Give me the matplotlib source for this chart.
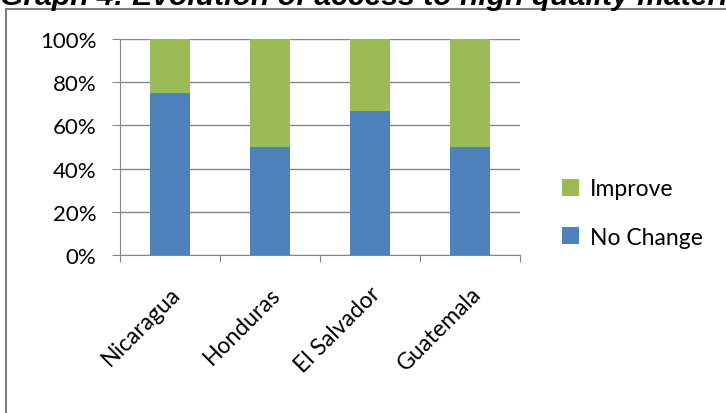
import matplotlib
matplotlib.use("Agg")
import matplotlib.pyplot as plt
from matplotlib.patches import Rectangle

countries = ["Nicaragua", "Honduras", "El Salvador", "Guatemala"]
no_change = [0.75, 0.50, 0.667, 0.50]
improve = [0.25, 0.50, 0.333, 0.50]

BLUE = "#4f81bd"
GREEN = "#9bbb59"
GRID = "#868686"

plt.rcParams["font.family"] = ["Lato", "DejaVu Sans"]

W, H = 726, 414
fig = plt.figure(figsize=(W / 100, H / 100), dpi=100)

# outer chart frame (top-left corner visible, rest runs off the picture)
fig.patches.append(Rectangle((6 / W, -0.1), 1.2, 1 - 10 / H + 0.1,
                             transform=fig.transFigure, fill=False,
                             edgecolor="#7f7f7f", lw=1.5))

fig.text(0, 1 - 5 / H, "Graph 4: Evolution of access to high quality materials",
         family=["Liberation Sans"], fontsize=21.7, fontweight="bold",
         fontstyle="italic", va="baseline", ha="left")

ax = fig.add_axes([120 / W, 1 - 256 / H, 400 / W, 216 / H])
x = range(len(countries))
ax.bar(x, no_change, width=0.4, color=BLUE, label="No Change", zorder=3)
ax.bar(x, improve, width=0.4, bottom=no_change, color=GREEN, label="Improve",
       zorder=3)

ax.set_xlim(-0.5, len(countries) - 0.5)
ax.set_ylim(0, 1)
ax.set_yticks([0, 0.2, 0.4, 0.6, 0.8, 1.0])
ax.set_yticklabels(["0%", "20%", "40%", "60%", "80%", "100%"])
ax.yaxis.grid(True, color=GRID, lw=1, zorder=0)
for s in ["top", "right"]:
    ax.spines[s].set_visible(False)
ax.spines["left"].set_color(GRID)
ax.spines["bottom"].set_color(GRID)
ax.tick_params(axis="y", length=6, color=GRID, labelsize=16, pad=11)

ax.set_xticks([i - 0.5 for i in range(len(countries) + 1)], minor=False)
ax.set_xticklabels([])
ax.tick_params(axis="x", length=5, color=GRID)
ax.set_xticks(list(x), minor=True)
ax.set_xticklabels(countries, minor=True, rotation=45, ha="right",
                   rotation_mode="anchor", fontsize=16.5)
ax.tick_params(axis="x", which="minor", length=0, pad=20)

handles, labels = ax.get_legend_handles_labels()
fig.legend(handles[::-1], labels[::-1], loc="center left",
           bbox_to_anchor=(541 / W, 1 - 214 / H), frameon=False,
           fontsize=16.5, handlelength=0.75, handleheight=0.75,
           handletextpad=0.5, labelspacing=1.2)

fig.savefig("out.png", dpi=100)
